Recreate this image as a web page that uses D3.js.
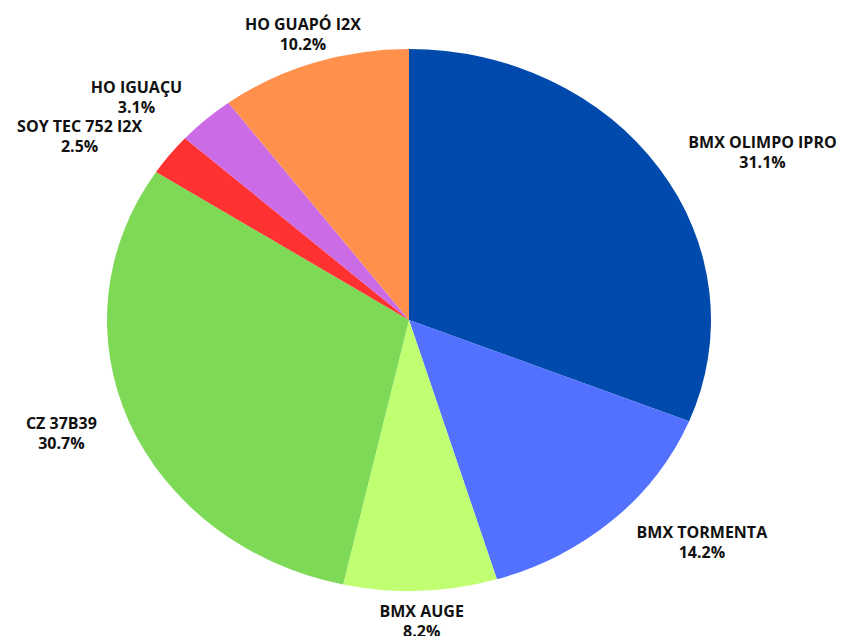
<!DOCTYPE html>
<html>
<head>
<meta charset="utf-8">
<script src="https://cdn.jsdelivr.net/npm/d3@7"></script>
<style>
  body { margin: 0; background: #fff; }
  svg { display: block; }
</style>
</head>
<body>
<div id="chart"></div>
<script>
'use strict';

// data
const varieties = ["BMX OLIMPO IPRO", "BMX TORMENTA", "BMX AUGE", "CZ 37B39", "SOY TEC 752 I2X", "HO IGUAÇU", "HO GUAPÓ I2X"];
const shares = [31.1, 14.2, 8.2, 30.7, 2.5, 3.1, 10.2];
const colors = ["#004AAD", "#5271FF", "#C1FF72", "#7ED957", "#FF3131", "#CB6CE6", "#FF914D"];

const width = 845, height = 636;
const cx = 409, cy = 320;
const rx = 302, ry = 271; // pie is stretched sideways
const gapX = 35, gapY = 30;

const svg = d3.select("#chart")
  .append("svg")
    .attr("width", width)
    .attr("height", height);

const data = varieties.map((name, i) => ({name, value: shares[i], color: colors[i]}));

const pie = d3.pie().sort(null).value(d => d.value);
const arc = d3.arc().innerRadius(0).outerRadius(ry);
const arcs = pie(data);

// slices, drawn as a circle then stretched horizontally
svg.append("g")
    .attr("transform", `translate(${cx},${cy}) scale(${rx / ry},1)`)
  .selectAll("path")
  .data(arcs)
  .enter()
  .append("path")
    .attr("d", arc)
    .attr("fill", d => d.data.color);

// labels outside each slice
const labels = svg.append("g")
  .selectAll("g")
  .data(arcs)
  .enter()
  .append("g");

labels.each(function(d) {
  const g = d3.select(this);
  const a = (d.startAngle + d.endAngle) / 2;
  const s = Math.sin(a), c = Math.cos(a);
  const ax = cx + (rx + gapX) * s;
  const ay = cy - (ry + gapY) * c;

  const t1 = g.append("text").text(d.data.name);
  const t2 = g.append("text").text(d.data.value.toFixed(1) + "%");
  g.selectAll("text")
    .attr("text-anchor", "middle")
    .attr("dominant-baseline", "central")
    .attr("font-family", "'Open Sans', sans-serif")
    .attr("font-weight", 700)
    .attr("font-size", 16)
    .attr("fill", "#111");

  const w = Math.max(t1.node().getComputedTextLength(), t2.node().getComputedTextLength());
  let x = ax;
  if (s > 0.5) x = ax + w / 2;
  else if (s < -0.5) x = ax - w / 2;

  t1.attr("x", x).attr("y", ay - 10);
  t2.attr("x", x).attr("y", ay + 10);
});
</script>
</body>
</html>
